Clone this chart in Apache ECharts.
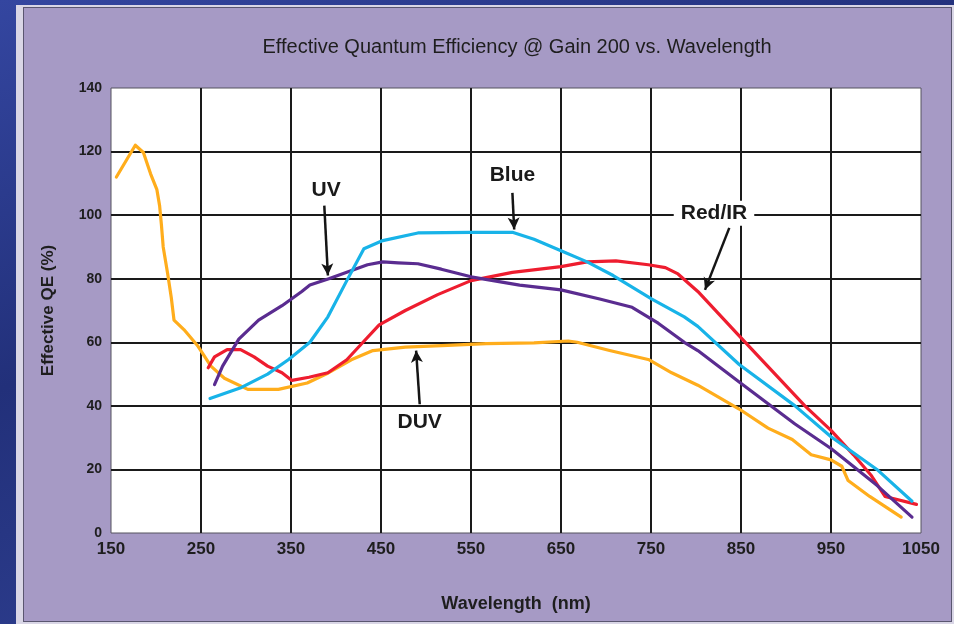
<!DOCTYPE html>
<html>
<head>
<meta charset="utf-8">
<script src="https://cdn.jsdelivr.net/npm/echarts@6/dist/echarts.min.js"></script>
<style>
  html, body { margin: 0; padding: 0; }
  body {
    width: 954px; height: 624px; overflow: hidden; position: relative;
    background: linear-gradient(160deg, #3446a0 0%, #22307a 40%, #2c3c8c 70%, #1d2766 100%);
  }
  #frame {
    position: absolute; left: 16px; top: 5px; width: 938px; height: 619px;
    background: #d9d6e6;
  }
  #panel {
    position: absolute; left: 23px; top: 7px; width: 929px; height: 615px;
    background: #a69ac5; border: 1px solid #5a5670; box-sizing: border-box;
  }
  #chart { position: absolute; left: 0; top: 0; width: 954px; height: 624px; }
</style>
</head>
<body>
<div id="frame"></div>
<div id="panel"></div>
<div id="chart"></div>
<script>
// Effective quantum efficiency (%) against wavelength (nm), one [nm, QE] list per sensor
const duvCurve = [
  [156, 112], [177, 122], [186, 119.7], [194, 113], [201, 108], [204, 103], [206, 97],
  [208, 90], [213, 81.5], [217, 74], [220, 67], [231, 64], [246, 59], [261, 52.5],
  [276, 48.7], [302, 45.2], [336, 45.2], [368, 47.2], [389, 50], [417, 54.5], [441, 57.4],
  [477, 58.5], [524, 59], [567, 59.6], [620, 59.8], [658, 60.4], [668, 60], [704, 57.4],
  [748, 54.5], [773, 50.4], [802, 46.5], [848, 39], [880, 33], [907, 29.4], [928, 24.6],
  [950, 23], [962, 21], [969, 16.5], [993, 11.5], [1028, 5]
];
const redIrCurve = [
  [258, 52], [265, 55.4], [279, 57.7], [294, 57.7], [309, 55.4], [324, 52.5], [340, 50.4],
  [351, 48], [370, 49], [391, 50.4], [412, 54.5], [430, 60], [448, 65.5], [477, 70],
  [513, 75], [550, 79.4], [596, 82], [650, 83.8], [679, 85.3], [711, 85.6], [747, 84.4],
  [766, 83.5], [780, 81.5], [802, 76], [848, 62], [921, 40], [950, 32.3], [975, 24.6],
  [995, 18], [1010, 11.5], [1045, 9]
];
const blueCurve = [
  [260, 42.3], [295, 45.8], [324, 50], [347, 54.5], [371, 60], [391, 68], [412, 79.4],
  [431, 89.4], [452, 92], [491, 94.4], [550, 94.6], [596, 94.6], [620, 92.4], [650, 88.8],
  [679, 85.3], [708, 81], [751, 73.6], [787, 68], [802, 65], [848, 53], [910, 40],
  [950, 30.3], [1001, 20], [1040, 10]
];
const uvCurve = [
  [265, 46.7], [274, 52.5], [292, 61], [314, 67], [340, 71.5], [362, 76], [371, 78],
  [392, 80], [435, 84.4], [452, 85.3], [469, 85], [491, 84.7], [517, 83], [550, 80.6],
  [604, 78], [650, 76.5], [693, 73.6], [729, 71], [758, 66], [787, 60], [802, 57.4],
  [848, 47.5], [910, 34.3], [950, 26.6], [1001, 15], [1040, 5]
];

// Callout labels and their pointer arrows, in axis units
const calloutNames = ['UV', 'Blue', 'Red/IR', 'DUV'];
const calloutTextAt = [[389, 108], [596, 112.5], [820, 100.6], [493, 35]];
const calloutArrowFrom = [[387, 103], [596, 107], [837, 96], [493, 40.5]];
const calloutArrowTo = [[391, 81], [598, 95.5], [810, 76.5], [489, 57.4]];

const xTicks = { min: 150, max: 1050, step: 100 };
const yTicks = { min: 0, max: 140, step: 20 };

const FONT = '"Liberation Sans", Arial, sans-serif';
const INK = '#1e1e1e';
const chart = echarts.init(document.getElementById('chart'), null, { renderer: 'canvas' });

function curve(name, data, color) {
  return {
    name, type: 'line', data, showSymbol: false, smooth: false,
    lineStyle: { color, width: 3.2, join: 'round', cap: 'round' },
    itemStyle: { color }, silent: true
  };
}

const calloutSeries = {
  name: 'callouts', type: 'line', data: [], silent: true,
  markLine: {
    silent: true, symbol: ['none', 'arrow'], symbolSize: [9, 12],
    label: { show: false },
    lineStyle: { color: '#151515', width: 2.5, type: 'solid' },
    emphasis: { disabled: true },
    data: calloutNames.map((n, i) => [
      { coord: calloutArrowFrom[i] }, { coord: calloutArrowTo[i] }
    ])
  },
  markPoint: {
    silent: true, symbol: 'rect', symbolSize: [1, 1],
    itemStyle: { color: 'rgba(0,0,0,0)' },
    label: {
      show: true, position: 'inside', formatter: '{b}',
      color: '#1a1a1a', fontFamily: FONT, fontWeight: 'bold', fontSize: 21
    },
    data: calloutNames.map((n, i) => {
      const item = { name: n, coord: calloutTextAt[i] };
      if (n === 'Red/IR') {
        item.label = { backgroundColor: '#ffffff', padding: [2, 7] };
      }
      return item;
    })
  }
};

chart.setOption({
  animation: false,
  backgroundColor: 'transparent',
  grid: {
    left: 111, right: 33, top: 88, bottom: 91,
    show: true, backgroundColor: '#ffffff', borderColor: '#55525f', borderWidth: 1
  },
  graphic: [{
    type: 'text', x: 517, y: 47,
    style: {
      text: 'Effective Quantum Efficiency @ Gain 200 vs. Wavelength',
      align: 'center', verticalAlign: 'middle',
      font: '20px ' + FONT, fill: INK
    }
  }],
  xAxis: {
    type: 'value', min: xTicks.min, max: xTicks.max, interval: xTicks.step,
    name: 'Wavelength  (nm)', nameLocation: 'middle', nameGap: 62,
    nameTextStyle: { fontFamily: FONT, fontSize: 18, fontWeight: 'bold', color: INK },
    axisLine: { show: false }, axisTick: { show: false },
    axisLabel: {
      fontFamily: FONT, fontWeight: 'bold', fontSize: 17, color: INK, margin: 8,
      formatter: v => String(v)
    },
    splitLine: { show: true, showMinLine: false, showMaxLine: false, lineStyle: { color: '#1a1a1a', width: 2 } }
  },
  yAxis: {
    type: 'value', min: yTicks.min, max: yTicks.max, interval: yTicks.step,
    name: 'Effective QE (%)', nameLocation: 'middle', nameGap: 54, nameRotate: 90,
    nameTextStyle: { fontFamily: FONT, fontSize: 17, fontWeight: 'bold', color: INK },
    axisLine: { show: false }, axisTick: { show: false },
    axisLabel: {
      fontFamily: FONT, fontWeight: 'bold', fontSize: 14, color: INK, margin: 9,
      formatter: v => String(v)
    },
    splitLine: { show: true, showMinLine: false, showMaxLine: false, lineStyle: { color: '#1a1a1a', width: 2 } }
  },
  series: [
    curve('DUV', duvCurve, '#ffad1c'),
    curve('Red/IR', redIrCurve, '#ee1d2f'),
    curve('UV', uvCurve, '#5a2c90'),
    curve('Blue', blueCurve, '#18b3e8'),
    calloutSeries
  ]
});
</script>
</body>
</html>
